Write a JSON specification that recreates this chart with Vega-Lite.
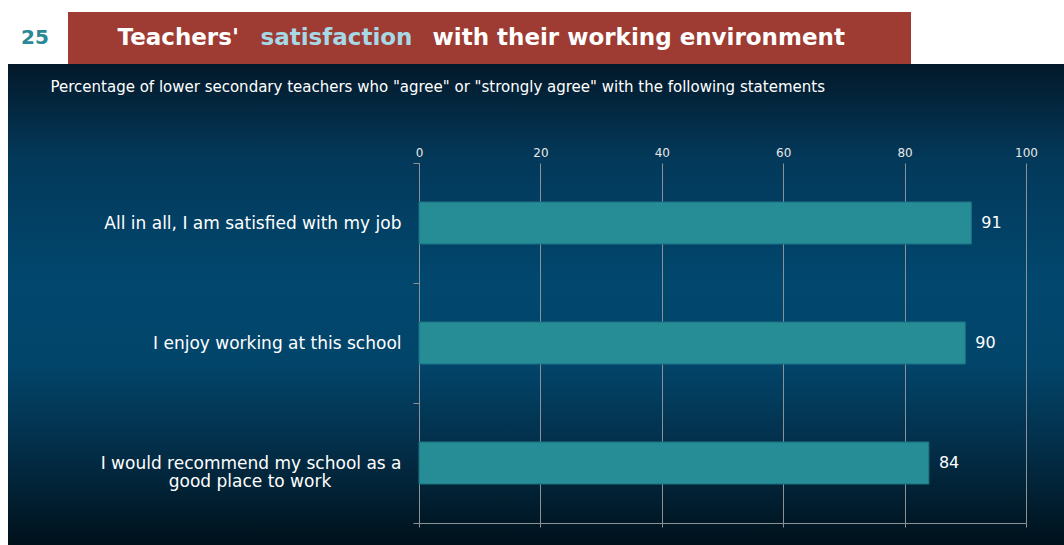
{
  "$schema": "https://vega.github.io/schema/vega-lite/v6.json",
  "background": "#ffffff",
  "padding": {"left": 8, "top": 12, "right": 0, "bottom": 0},
  "spacing": -10,
  "config": {
    "view": {"stroke": null},
    "font": "DejaVu Sans"
  },
  "vconcat": [
    {
      "spacing": 0,
      "hconcat": [
        {
          "width": 60,
          "height": 52,
          "data": {"values": [{"page": "25"}]},
          "mark": {"type": "text", "fontSize": 20, "fontWeight": "bold", "color": "#2b8995", "font": "DejaVu Sans", "dx": -3, "baseline": "middle", "align": "center"},
          "encoding": {"text": {"field": "page"}}
        },
        {
          "width": 843,
          "height": 52,
          "view": {"fill": "#9e3c33", "stroke": null},
          "data": {"values": [{"part": "Teachers'"}]},
          "layer": [
            {
              "mark": {"type": "text", "fontSize": 23, "fontWeight": "bold", "color": "#ffffff", "font": "DejaVu Sans", "align": "left", "baseline": "middle", "dx": -372},
              "encoding": {"text": {"datum": "Teachers'"}}
            },
            {
              "mark": {"type": "text", "fontSize": 23, "fontWeight": "bold", "color": "#a6d8e6", "font": "DejaVu Sans", "align": "left", "baseline": "middle", "dx": -229},
              "encoding": {"text": {"datum": "satisfaction"}}
            },
            {
              "mark": {"type": "text", "fontSize": 23, "fontWeight": "bold", "color": "#ffffff", "font": "DejaVu Sans", "align": "left", "baseline": "middle", "dx": -57},
              "encoding": {"text": {"datum": "with their working environment"}}
            }
          ]
        }
      ]
    },
    {
      "width": 1056,
      "height": 481,
      "view": {
        "stroke": null,
        "fill": {
          "gradient": "linear",
          "x1": 0, "y1": 0, "x2": 0, "y2": 1,
          "stops": [
            {"offset": 0, "color": "#03192a"},
            {"offset": 0.2, "color": "#03395a"},
            {"offset": 0.45, "color": "#01476e"},
            {"offset": 0.62, "color": "#02456b"},
            {"offset": 0.8, "color": "#032e48"},
            {"offset": 1, "color": "#00111b"}
          ]
        }
      },
      "data": {
        "values": [
          {"statement": "All in all, I am satisfied with my job", "pct": 91},
          {"statement": "I enjoy working at this school", "pct": 90},
          {"statement": "I would recommend my school as a good place to work", "pct": 84}
        ]
      },
      "encoding": {
        "y": {
          "field": "statement",
          "type": "nominal",
          "sort": null,
          "scale": {"range": [99, 459], "paddingInner": 0, "paddingOuter": 0},
          "axis": {
            "orient": "left",
            "offset": -411,
            "title": null,
            "domain": true,
            "domainColor": "#8c9196",
            "ticks": true,
            "tickBand": "extent",
            "tickSize": 6,
            "tickColor": "#8c9196",
            "grid": false,
            "labelColor": "#ffffff",
            "labelFontSize": 17,
            "labelFont": "DejaVu Sans",
            "labelPadding": 12,
            "labelLimit": 0,
            "labelLineHeight": 18,
            "labelAlign": "right",
            "labelExpr": "datum.value === 'I would recommend my school as a good place to work' ? ['I would recommend my school as a', 'good place to work\u00a0\u00a0\u00a0\u00a0\u00a0\u00a0\u00a0\u00a0\u00a0\u00a0\u00a0\u00a0\u00a0\u200b'] : datum.label"
          }
        }
      },
      "layer": [
        {
          "mark": {"type": "bar", "color": "#268c96", "stroke": "#1d7280", "strokeWidth": 1, "height": {"band": 0.35}},
          "encoding": {
            "x": {
              "field": "pct",
              "type": "quantitative",
              "scale": {"domain": [0, 100], "range": [411, 1018], "nice": false, "zero": true},
              "axis": {
                "orient": "top",
                "offset": -99,
                "values": [0, 20, 40, 60, 80, 100],
                "grid": true,
                "gridColor": "#8c9196",
                "gridOpacity": 1,
                "domain": false,
                "ticks": false,
                "labelColor": "#e8e8e8",
                "labelFontSize": 12,
                "labelFont": "DejaVu Sans",
                "labelPadding": 4,
                "labelFlush": false,
                "title": "Percentage of lower secondary teachers who \"agree\" or \"strongly agree\" with the following statements",
                "titleAnchor": "start",
                "titleAlign": "left",
                "titleBaseline": "middle",
                "titleX": 42,
                "titleY": -77,
                "titleColor": "#ffffff",
                "titleFont": "DejaVu Sans",
                "titleFontSize": 15,
                "titleFontWeight": "normal",
                "titleLimit": 0
              }
            }
          }
        },
        {
          "mark": {"type": "text", "align": "left", "baseline": "middle", "dx": 10, "fontSize": 16, "color": "#ffffff", "font": "DejaVu Sans"},
          "encoding": {
            "x": {
              "field": "pct",
              "type": "quantitative",
              "axis": {
                "orient": "bottom",
                "offset": -22,
                "values": [0, 20, 40, 60, 80, 100],
                "grid": false,
                "labels": false,
                "domain": true,
                "domainColor": "#8c9196",
                "ticks": true,
                "tickSize": 4,
                "tickColor": "#8c9196",
                "title": null
              }
            },
            "text": {"field": "pct"}
          }
        }
      ],
      "resolve": {"axis": {"x": "independent"}}
    }
  ]
}
